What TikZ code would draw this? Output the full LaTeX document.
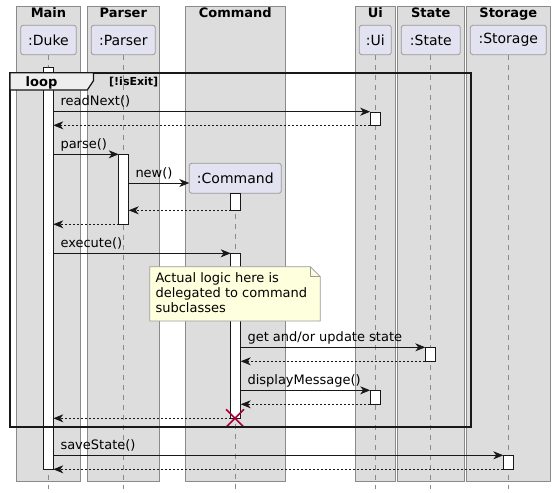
\documentclass[tikz,border=0pt]{standalone}
\usepackage{fontspec}
\setmainfont{DejaVu Sans}
\usetikzlibrary{arrows.meta}
\definecolor{boxbg}{HTML}{DDDDDD}
\definecolor{boxbd}{HTML}{8A8A8A}
\definecolor{partbg}{HTML}{E2E2F0}
\definecolor{partbd}{HTML}{9A9A9A}
\definecolor{notebg}{HTML}{FEFFDD}
\definecolor{notebd}{HTML}{9A9A9A}
\definecolor{destroyc}{HTML}{A80036}
\definecolor{ink}{HTML}{181818}
\definecolor{tabbg}{HTML}{EEEEEE}
\tikzset{
  grp/.style={draw=boxbd, fill=boxbg, line width=0.8pt},
  grptitle/.style={anchor=base, inner sep=0pt, font=\bfseries\fontsize{13}{15}\selectfont},
  part/.style={draw=partbd, fill=partbg, line width=0.8pt, rounded corners=2.5pt, minimum height=29.4pt, inner sep=0pt, font=\fontsize{14}{16}\selectfont},
  lifeline/.style={draw=boxbd, line width=0.7pt, dash pattern=on 5pt off 5pt},
  act/.style={draw=ink, fill=white, line width=0.9pt, minimum width=10pt, inner sep=0pt, anchor=north},
  msg/.style={draw=ink, line width=0.9pt, -{Stealth[length=10pt,width=8pt,inset=3pt]}},
  ret/.style={msg, dash pattern=on 2pt off 2pt},
  lbl/.style={anchor=base west, inner sep=0pt, font=\fontsize{13}{15}\selectfont},
  notetxt/.style={anchor=base west, inner sep=0pt, font=\fontsize{13}{15}\selectfont},
  loopframe/.style={draw=ink, line width=1.6pt},
  xmark/.style={draw=destroyc, line width=1.5pt}
}
\begin{document}
\begin{tikzpicture}[x=1pt,y=-1pt]
\useasboundingbox (0,0) rectangle (555,493);
\fill[white] (0,0) rectangle (555,493);

% group boxes
\draw[grp] (16.7,6) rectangle (80.3,481);
\draw[grp] (87.3,6) rectangle (159.3,481);
\draw[grp] (185.3,6) rectangle (285.3,481);
\draw[grp] (355.3,6) rectangle (395.3,481);
\draw[grp] (397.3,6) rectangle (464.3,481);
\draw[grp] (466.3,6) rectangle (550.3,481);
\node[grptitle] (tMain) at (48.5,17.5) {Main};
\node[grptitle] (tParser) at (123.3,17.5) {Parser};
\node[grptitle] (tCommand) at (235.3,17.5) {Command};
\node[grptitle] (tUi) at (375.3,17.5) {Ui};
\node[grptitle] (tState) at (430.8,17.5) {State};
\node[grptitle] (tStorage) at (508.3,17.5) {Storage};

% participants
\node[part, minimum width=55.6pt] (duke) at (48.5,40) {:Duke};
\node[part, minimum width=64pt] (parser) at (123.3,40) {:Parser};
\node[part, minimum width=32pt] (ui) at (375.3,40) {:Ui};
\node[part, minimum width=59pt] (state) at (430.8,40) {:State};
\node[part, minimum width=76pt] (storage) at (508.3,40) {:Storage};
\node[part, minimum width=92pt, minimum height=30pt] (command) at (235.3,178.3) {:Command};

% lifeline ends
\coordinate (dukeEnd) at (48.5,489);
\coordinate (parserEnd) at (123.3,489);
\coordinate (uiEnd) at (375.3,489);
\coordinate (stateEnd) at (430.8,489);
\coordinate (storageEnd) at (508.3,489);
\coordinate (commandEnd) at (235.3,489);
\draw[lifeline] (duke.south) -- (dukeEnd);
\draw[lifeline] (parser.south) -- (parserEnd);
\draw[lifeline] (ui.south) -- (uiEnd);
\draw[lifeline] (state.south) -- (stateEnd);
\draw[lifeline] (storage.south) -- (storageEnd);
\draw[lifeline] (command.south) -- (commandEnd);

% activations
\node[act, minimum height=402.6pt] (aDuke) at (48.3,66.7) {};
\node[act, minimum height=13.6pt] (aUi1) at (375.2,111.7) {};
\node[act, minimum height=70pt] (aParser) at (123.7,154.3) {};
\node[act, minimum height=17pt] (aCmd1) at (235.7,193.3) {};
\node[act, minimum height=165pt] (aCmd2) at (235.7,253.3) {};
\node[act, minimum height=14pt] (aState) at (430.3,347.3) {};
\node[act, minimum height=14pt] (aUi2) at (375.2,390.3) {};
\node[act, minimum height=14pt] (aStorage) at (508.3,455.3) {};

% note
\draw[draw=notebd, fill=notebg, line width=0.8pt] (149.7,266.7) -- (310.3,266.7) -- (320.3,276.7) -- (320.3,321) -- (149.7,321) -- cycle;
\draw[draw=notebd, line width=0.8pt] (310.3,266.7) -- (310.3,276.7) -- (320.3,276.7);
\node[notetxt] (n1) at (155.3,282.7) {Actual logic here is};
\node[notetxt] (n2) at (155.3,297.7) {delegated to command};
\node[notetxt] (n3) at (155.3,312.7) {subclasses};

% message endpoints
\coordinate (m1s) at (53.3,111.7);   \coordinate (m1e) at (370.2,111.7);
\coordinate (r1s) at (370.2,125.3);  \coordinate (r1e) at (53.3,125.3);
\coordinate (m2s) at (53.3,154.3);   \coordinate (m2e) at (118.7,154.3);
\coordinate (m3s) at (128.7,183);    \coordinate (m3e) at (189.3,183);
\coordinate (r3s) at (230.7,210.3);  \coordinate (r3e) at (128.7,210.3);
\coordinate (r2s) at (118.7,224.3);  \coordinate (r2e) at (53.3,224.3);
\coordinate (m4s) at (53.3,253.3);   \coordinate (m4e) at (230.7,253.3);
\coordinate (m5s) at (240.7,347.3);  \coordinate (m5e) at (425.3,347.3);
\coordinate (r5s) at (425.3,361.3);  \coordinate (r5e) at (240.7,361.3);
\coordinate (m6s) at (240.7,390.3);  \coordinate (m6e) at (370.2,390.3);
\coordinate (r6s) at (370.2,404.3);  \coordinate (r6e) at (240.7,404.3);
\coordinate (r4s) at (230.7,418.3);  \coordinate (r4e) at (53.3,418.3);
\coordinate (m7s) at (53.3,455.3);   \coordinate (m7e) at (503.3,455.3);
\coordinate (r7s) at (503.3,469.3);  \coordinate (r7e) at (53.3,469.3);

\draw[msg] (m1s) -- (m1e);
\node[lbl] (l1) at (60.3,105.5) {readNext()};
\draw[ret] (r1s) -- (r1e);
\draw[msg] (m2s) -- (m2e);
\node[lbl] (l2) at (60.3,148.3) {parse()};
\draw[msg] (m3s) -- (m3e);
\node[lbl] (l3) at (135.3,177) {new()};
\draw[ret] (r3s) -- (r3e);
\draw[ret] (r2s) -- (r2e);
\draw[msg] (m4s) -- (m4e);
\node[lbl] (l4) at (60.3,247.3) {execute()};
\draw[msg] (m5s) -- (m5e);
\node[lbl] (l5) at (247.3,341.3) {get and/or update state};
\draw[ret] (r5s) -- (r5e);
\draw[msg] (m6s) -- (m6e);
\node[lbl] (l6) at (247.3,384.3) {displayMessage()};
\draw[ret] (r6s) -- (r6e);
\draw[ret] (r4s) -- (r4e);
\draw[msg] (m7s) -- (m7e);
\node[lbl] (l7) at (60.3,449.3) {saveState()};
\draw[ret] (r7s) -- (r7e);

% destroy
\coordinate (xc) at (235,418.3);
\draw[xmark] ([shift={(-9,-9)}]xc) -- ([shift={(9,9)}]xc);
\draw[xmark] ([shift={(-9,9)}]xc) -- ([shift={(9,-9)}]xc);

% loop frame
\draw[loopframe] (10,72.7) rectangle (471,426.7);
\draw[draw=ink, fill=tabbg, line width=1.2pt] (10,72.7) -- (93.5,72.7) -- (93.5,80.7) -- (87.3,90) -- (10,90) -- cycle;
\node[anchor=base, inner sep=0pt, font=\bfseries\fontsize{13}{15}\selectfont] (loopl) at (41.5,86) {loop};
\node[anchor=base west, inner sep=0pt, font=\bfseries\fontsize{11}{13}\selectfont] (cond) at (109,85.5) {[!isExit]};
\end{tikzpicture}
\end{document}
